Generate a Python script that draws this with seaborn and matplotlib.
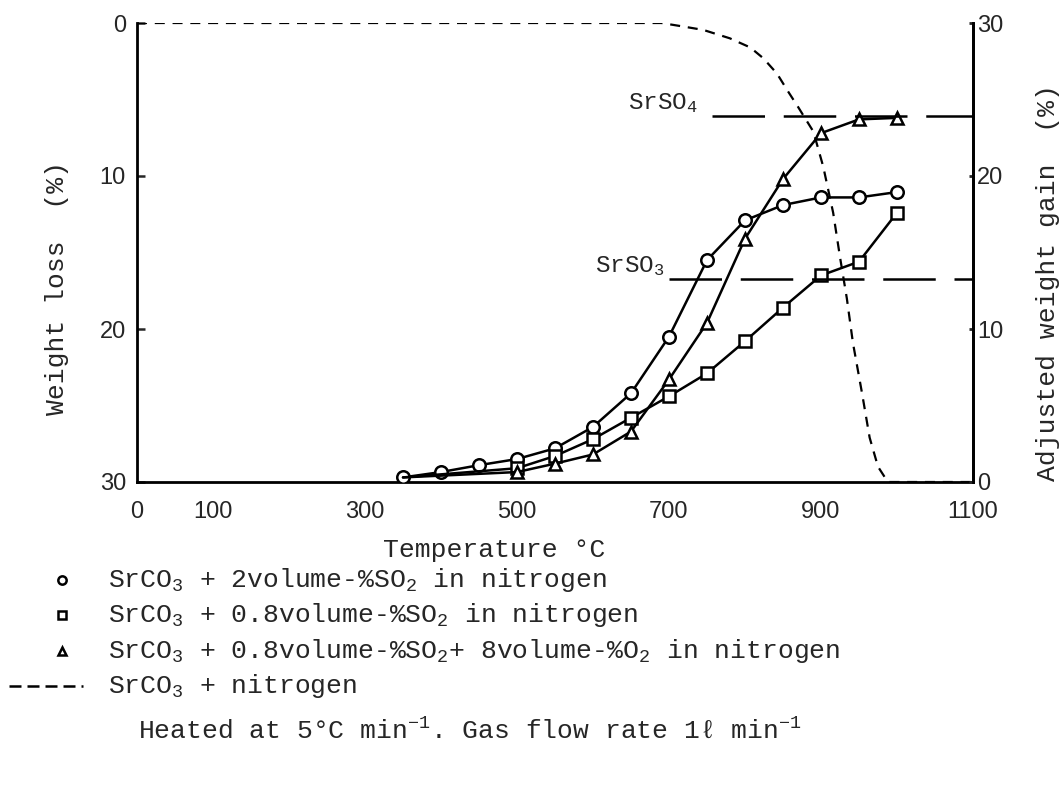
import seaborn as sns
import matplotlib.pyplot as plt
from matplotlib.lines import Line2D

# data
temp = [350, 400, 450, 500, 550, 600, 650, 700, 750, 800, 850, 900, 950, 1000]
gain_2so2 = [0.3, 0.65, 1.1, 1.5, 2.2, 3.6, 5.8, 9.5, 14.5, 17.1, 18.1, 18.6, 18.6, 18.95]

temp_b = [350, 500, 550, 600, 650, 700, 750, 800, 850, 900, 950, 1000]
gain_08so2 = [0.3, 0.9, 1.7, 2.8, 4.2, 5.6, 7.1, 9.2, 11.4, 13.5, 14.4, 17.6]
gain_08so2_o2 = [0.3, 0.65, 1.2, 1.8, 3.3, 6.7, 10.4, 15.9, 19.8, 22.8, 23.7, 23.8]

temp_n2 = [0, 690, 715, 745, 780, 807, 824, 842, 857, 870, 890, 903, 916, 925,
           934, 942, 954, 964, 975, 988, 1100]
loss_n2 = [0, 0, 0.2, 0.45, 1.0, 1.6, 2.3, 3.3, 4.5, 5.5, 7.1, 9.4, 12.4, 15.3,
           18.0, 20.9, 24.2, 27.1, 29.0, 30.0, 30.0]

srso4 = 23.9
srso3 = 13.3

sns.set_style('white')
plt.rcParams['font.family'] = ['Liberation Sans', 'DejaVu Sans']
plt.rcParams['mathtext.default'] = 'regular'
mono = ['Liberation Mono', 'DejaVu Sans Mono']

W, H = 1063, 787
fig = plt.figure(figsize=(W / 100, H / 100), dpi=100)
ax = fig.add_axes([137 / W, 1 - 482 / H, (973 - 137) / W, (482 - 23) / H])
ax2 = ax.twinx()

lw = 1.8
mk = dict(markersize=9, markerfacecolor='white', markeredgecolor='black',
          markeredgewidth=1.8, color='black', lw=lw)

# kurva SrCO3 + nitrogen (sumbu kiri, weight loss)
sns.lineplot(x=temp_n2, y=loss_n2, ax=ax, color='black', lw=1.6,
             linestyle=(0, (4.5, 3.5)))

# kurva kenaikan berat (sumbu kanan)
sns.lineplot(x=temp, y=gain_2so2, ax=ax2, marker='o', **mk)
sns.lineplot(x=temp_b, y=gain_08so2, ax=ax2, marker='s', markevery=slice(1, None), **mk)
sns.lineplot(x=temp_b, y=gain_08so2_o2, ax=ax2, marker='^', markevery=slice(1, None), **mk)

# garis SrSO4 / SrSO3
sns.lineplot(x=[757, 1100], y=[srso4, srso4], ax=ax2, color='black', lw=lw,
             linestyle=(0, (21, 7.5)))
sns.lineplot(x=[700, 1100], y=[srso3, srso3], ax=ax2, color='black', lw=lw,
             linestyle=(0, (21, 7.5)))
ax2.text(646, srso4 + 0.45, 'SrSO$_4$', fontsize=17.5, family=mono, va='baseline')
ax2.text(603, srso3 + 0.45, 'SrSO$_3$', fontsize=17.5, family=mono, va='baseline')

ax.set_xlim(0, 1100)
ax.set_ylim(30, 0)
ax2.set_ylim(0, 30)

xt = list(range(0, 1101, 100))
ax.set_xticks(xt)
ax.set_xticklabels([str(t) if t in (0, 100, 300, 500, 700, 900, 1100) else '' for t in xt])
ax.set_yticks([0, 10, 20, 30])
ax2.set_yticks([0, 10, 20, 30])

ax.tick_params(axis='x', direction='out', length=5, width=1.8, labelsize=17, pad=9)
ax.tick_params(axis='y', direction='in', length=6, width=1.8, labelsize=17, pad=8)
ax2.tick_params(axis='y', direction='in', length=3, width=2, labelsize=17, pad=3)

ax.spines['top'].set_visible(False)
for s in ['top', 'left', 'bottom']:
    ax2.spines[s].set_visible(False)
for a in (ax, ax2):
    for s in a.spines.values():
        s.set_color('black')
        s.set_linewidth(2)
ax.set_xlabel('')
ax.set_ylabel('')
ax2.set_ylabel('')

# label sumbu
fig.text(57 / W, 1 - 288 / H, 'Weight loss  (%)', rotation=90, fontsize=19,
         family=mono, ha='center', va='center')
fig.text(1048 / W, 1 - 283 / H, 'Adjusted weight gain  (%)', rotation=90,
         fontsize=19, family=mono, ha='center', va='center')
fig.text(383 / W, 1 - 550 / H, 'Temperature °C', fontsize=19, family=mono,
         ha='left', va='center')

# keterangan
rows = [580, 615, 651, 686]
labels = ['SrCO$_3$ + 2volume-%SO$_2$ in nitrogen',
          'SrCO$_3$ + 0.8volume-%SO$_2$ in nitrogen',
          'SrCO$_3$ + 0.8volume-%SO$_2$+ 8volume-%O$_2$ in nitrogen',
          'SrCO$_3$ + nitrogen']
markers = ['o', 's', '^', None]
for y, lab, m in zip(rows, labels, markers):
    yf = 1 - y / H
    if m:
        fig.add_artist(Line2D([62 / W], [yf], transform=fig.transFigure, marker=m,
                              markersize=6, markerfacecolor='white',
                              markeredgecolor='black', markeredgewidth=1.8))
    else:
        fig.add_artist(Line2D([9 / W, 83 / W], [yf, yf], transform=fig.transFigure,
                              color='black', lw=lw, linestyle=(0, (4.8, 2.4))))
    fig.text(108 / W, yf, lab, fontsize=19, family=mono, ha='left', va='center')

fig.text(138 / W, 1 - 731 / H, 'Heated at 5°C min$^{-1}$. Gas flow rate 1ℓ min$^{-1}$',
         fontsize=19, family=mono, ha='left', va='center')

plt.savefig('out.png', dpi=100)
